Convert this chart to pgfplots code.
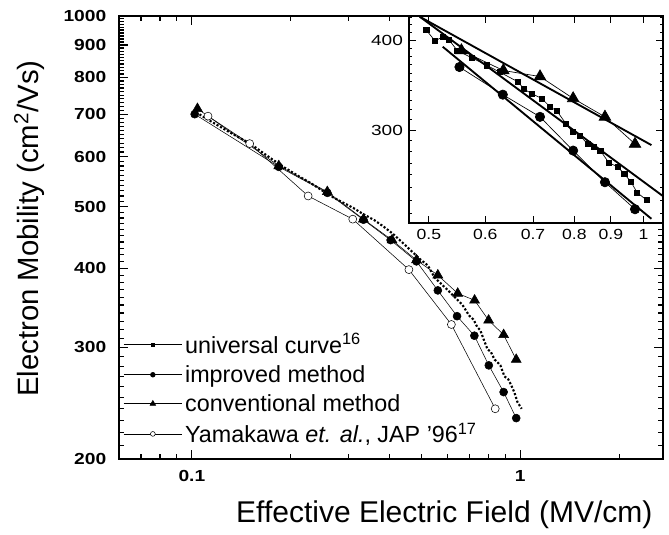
\documentclass[border=0pt]{standalone}
\usepackage{fontspec}
\setmainfont{Liberation Sans}
\usepackage{graphicx}
\usepackage{pgfplots}
\pgfplotsset{compat=1.18}

\begin{document}
\begin{tikzpicture}
% main log-log axis (1px of the reference = 0.75pt)
\begin{axis}[
  name=main,
  at={(0,0)}, anchor=south west,
  width=408pt, height=332.25pt, scale only axis,
  xmode=log, ymode=log,
  xmin=0.06, xmax=2.72, ymin=200, ymax=1000,
  xtick={0.1,1},
  xticklabels={\scalebox{1.2}[1]{0.1},\scalebox{1.2}[1]{1}},
  minor xtick={0.07,0.08,0.09,0.2,0.3,0.4,0.5,0.6,0.7,0.8,0.9,2},
  ytick={200,300,400,500,600,700,800,900,1000},
  yticklabels={\scalebox{1.2}[1]{200},\scalebox{1.2}[1]{300},\scalebox{1.2}[1]{400},
    \scalebox{1.2}[1]{500},\scalebox{1.2}[1]{600},\scalebox{1.2}[1]{700},
    \scalebox{1.2}[1]{800},\scalebox{1.2}[1]{900},\scalebox{1.2}[1]{1000}},
  minor ytick={210,220,...,990},
  tick align=inside,
  major tick length=7pt, minor tick length=3.5pt,
  every tick/.style={black, line width=0.9pt},
  axis line style={line width=1.5pt},
  ticklabel style={font=\fontsize{12}{14}\selectfont\bfseries},
  xticklabel shift=5pt, yticklabel shift=6pt,
  xlabel={Effective Electric Field (MV/cm)},
  ylabel={Electron Mobility (cm\textsuperscript{2}/Vs)},
  xlabel style={font=\fontsize{22.5}{26}\selectfont,
    at={(axis description cs:0.598,-0.126)}, anchor=center},
  ylabel style={font=\fontsize{22}{26}\selectfont,
    at={(axis description cs:-0.165,0.52)}, anchor=center},
  legend style={at={(axis description cs:0,0)}, anchor=south west,
    xshift=3pt, yshift=8.5pt, draw=none, fill=none, inner sep=0pt,
    row sep=3.5pt,
    font=\fontsize{17.5}{21}\selectfont, cells={anchor=west}},
  legend image code/.code={\draw[mark repeat=2,mark phase=2,#1]
    plot coordinates {(0pt,0pt) (22pt,0pt) (44pt,0pt)};},
]
\addlegendimage{black, thin, mark=square*, mark size=1.2pt}
\addlegendentry{universal curve\textsuperscript{16}}
\addlegendimage{black, thin, mark=*, mark size=1.8pt}
\addlegendentry{improved method}
\addlegendimage{black, thin, mark=triangle*, mark size=2.4pt}
\addlegendentry{conventional method}
\addlegendimage{black, thin, mark=*, mark size=1.8pt, mark options={fill=white}}
\addlegendentry{Yamakawa \textit{et. al.}, JAP '96\textsuperscript{17}}

% Yamakawa et al.
\addplot[black, thin, mark=*, mark size=3pt, mark options={fill=white}, forget plot]
  coordinates {(0.112,695)(0.150,629)(0.226,520)(0.309,478)(0.458,398)(0.617,326)(0.839,240)};
% improved method
\addplot[black, thin, mark=*, mark size=3pt, forget plot]
  coordinates {(0.102,700)(0.184,578)(0.2585,526)(0.333,477)(0.403,443)(0.483,410)
    (0.561,369)(0.642,336)(0.725,313)(0.802,281)(0.890,255)(0.972,232)};
% conventional method
\addplot[black, thin, mark=triangle*, mark size=4.3pt, forget plot]
  coordinates {(0.104,714)(0.184,580)(0.2585,528)(0.333,478)(0.407,443)(0.483,412)
    (0.561,390)(0.645,365)(0.726,356)(0.801,331)(0.890,314)(0.972,287)};
% universal curve
\addplot[black, line width=1.6pt, dash pattern=on 1.6pt off 1.4pt, forget plot]
  coordinates {(0.103,705)(0.11,690)(0.12,672)(0.13,656)(0.14,642)(0.15,630)
    (0.162,612)(0.175,595)(0.19,578)(0.21,560)(0.23,545)(0.25,530)(0.27,517)
    (0.29,507)(0.31,498)(0.33,488)(0.36,476)(0.384,465)(0.41,453)(0.44,438)
    (0.47,424)(0.496,413)(0.523,404)(0.548,387)(0.574,378)(0.603,369)(0.629,361)
    (0.667,350)(0.698,337)(0.72,332)(0.74,323)(0.756,319)(0.779,306)(0.795,298)
    (0.814,295)(0.835,287)(0.853,284)(0.87,281)(0.895,270)(0.92,267)(0.94,261)
    (0.96,254.5)(0.98,246)(1.01,240)};
\end{axis}

% inset
\begin{axis}[
  at={(217.5pt,177pt)}, anchor=south west,
  width=190.5pt, height=155.25pt, scale only axis,
  xmode=log, ymode=log,
  xmin=0.469, xmax=1.065, ymin=223, ymax=432,
  axis background/.style={fill=white},
  xtick={0.5,0.6,0.7,0.8,0.9,1},
  xticklabels={\scalebox{1.2}[1]{0.5},\scalebox{1.2}[1]{0.6},\scalebox{1.2}[1]{0.7},
    \scalebox{1.2}[1]{0.8},\scalebox{1.2}[1]{0.9},\scalebox{1.2}[1]{1}},
  ytick={300,400},
  yticklabels={\scalebox{1.3}[1]{300},\scalebox{1.3}[1]{400}},
  minor ytick={230,240,...,430},
  tick align=inside,
  major tick length=5pt, minor tick length=2.5pt,
  every tick/.style={black, line width=0.7pt},
  axis line style={line width=1.3pt},
  ticklabel style={font=\fontsize{11}{13}\selectfont},
  xticklabel shift=1pt, yticklabel shift=1pt,
]
\addplot[black, line width=0.5pt, mark=triangle*, mark size=5pt]
  coordinates {(0.5555,387)(0.636,363)(0.716,356)(0.797,332)(0.883,313)(0.973,287)};
\addplot[black, line width=0.5pt, mark=*, mark size=3.5pt]
  coordinates {(0.552,367)(0.635,336)(0.716,313)(0.797,281)(0.883,254)(0.973,233)};
\addplot[black, line width=0.5pt, mark=square*, mark size=1.9pt]
  coordinates {(0.496,413)(0.51,399)(0.523,404)(0.534,400)(0.548,387)(0.574,378)
    (0.603,369)(0.629,361)(0.667,350)(0.68,342)(0.6975,337)(0.72,332)(0.74,323)
    (0.756,319)(0.779,306)(0.795,298.4)(0.814,295)(0.835,287)(0.853,284)(0.87,281)
    (0.895,270)(0.92,267)(0.94,260.7)(0.96,254.5)(0.98,245.6)(1.01,240)};
% fitted straight lines
\addplot[black, line width=1.4pt] coordinates {(0.4856,431)(1.026,286)};
\addplot[black, line width=1.4pt] coordinates {(0.4856,431)(1.077,241)};
\addplot[black, line width=1.4pt] coordinates {(0.523,391.6)(1.026,226)};
\end{axis}

\pgfresetboundingbox
\path[use as bounding box] (-89.25pt,-57pt) rectangle (412.5pt,344.25pt);
\end{tikzpicture}
\end{document}
